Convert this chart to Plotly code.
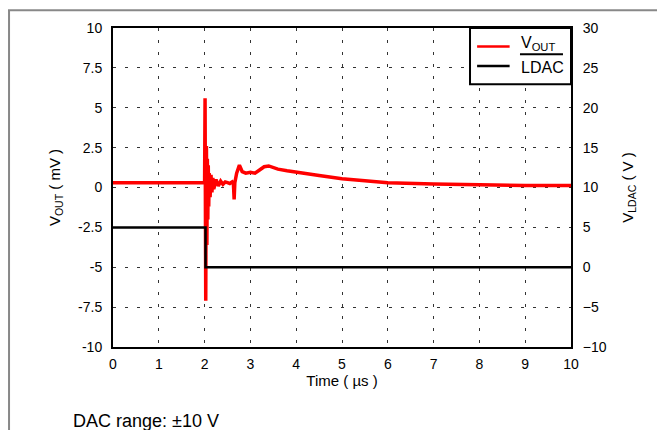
import plotly.graph_objects as go

# Data
t_out = [0.0, 1.0, 1.9, 1.98, 2.0, 2.01, 2.025, 2.035, 2.04, 2.05, 2.06, 2.07, 2.08, 2.09, 2.10,
         2.12, 2.14, 2.16, 2.18, 2.20, 2.25, 2.30, 2.35, 2.40, 2.45, 2.50, 2.55, 2.60, 2.63,
         2.645, 2.66, 2.70, 2.76, 2.82, 2.90, 3.0, 3.1, 3.2, 3.3, 3.4, 3.5, 3.6, 3.8, 4.0,
         4.5, 5.0, 5.5, 6.0, 7.0, 8.0, 9.0, 10.0]
v_out = [0.3, 0.32, 0.3, 0.3, 0.3, 5.6, -7.1, 1.0, 2.6, -3.6, 1.8, -2.0, 1.4, -1.2, 0.9,
         -0.6, 0.8, -0.3, 0.6, -0.1, 0.5, 0.1, 0.4, 0.2, 0.35, 0.3, 0.25, 0.35, 0.2,
         -0.75, 0.3, 0.9, 1.4, 1.0, 0.9, 0.95, 0.9, 1.1, 1.3, 1.35, 1.25, 1.15, 1.05, 0.95,
         0.75, 0.55, 0.4, 0.3, 0.22, 0.16, 0.12, 0.12]

t_ldac = [0.0, 2.02, 2.02, 10.0]
v_ldac = [5.0, 5.0, 0.0, 0.0]

x_ticks = [0, 1, 2, 3, 4, 5, 6, 7, 8, 9, 10]
y_ticks = [-10, -7.5, -5, -2.5, 0, 2.5, 5, 7.5, 10]
y_labels = ["-10", "-7.5", "-5", "-2.5", "0", "2.5", "5", "7.5", "10"]
y2_ticks = [-10, -5, 0, 5, 10, 15, 20, 25, 30]

legend_names = ["V<sub>OUT</sub>", "LDAC"]
legend_colors = ["#ff0000", "#000000"]

FONT = "Liberation Sans, Arial, sans-serif"
HIDDEN_TICK = "rgba(0,0,0,0)"

fig = go.Figure()
fig.add_trace(go.Scatter(x=t_out, y=v_out, mode="lines", name=legend_names[0],
                         line=dict(color=legend_colors[0], width=3.5), showlegend=False))
fig.add_trace(go.Scatter(x=t_ldac, y=v_ldac, mode="lines", name=legend_names[1],
                         line=dict(color=legend_colors[1], width=2.5), yaxis="y2",
                         showlegend=False))

grid = dict(showgrid=True, gridcolor="#333333", gridwidth=1, griddash="3px,9px")

fig.update_layout(
    width=665, height=430,
    margin=dict(l=105, r=102, t=15, b=91),
    paper_bgcolor="white", plot_bgcolor="white",
    font=dict(family=FONT, size=14, color="black"),
    xaxis=dict(range=[0, 10], tickvals=x_ticks, ticks="outside", ticklen=3, tickcolor=HIDDEN_TICK,
               showline=True, linecolor="black", linewidth=2, mirror=True, zeroline=False,
               title=dict(text="Time ( µs )", font=dict(size=15), standoff=5), **grid),
    yaxis=dict(range=[-10, 10], tickvals=y_ticks, ticktext=y_labels, ticks="outside", ticklen=6,
               tickcolor=HIDDEN_TICK, showline=True, linecolor="black", linewidth=2, mirror=True,
               zeroline=False,
               title=dict(text="V<sub>OUT</sub> ( mV )", font=dict(size=15), standoff=14), **grid),
    yaxis2=dict(range=[-10, 30], tickvals=y2_ticks, overlaying="y", side="right", showgrid=False,
                zeroline=False, showline=False, ticks="outside", ticklen=8, tickcolor=HIDDEN_TICK,
                title=dict(text="V<sub>LDAC</sub> ( V )", font=dict(size=15), standoff=16)),
    showlegend=False,
)

# Hand-built legend box (to match the reference's compact layout with overline)
fig.add_shape(type="rect", xref="paper", yref="paper", x0=0.7795, x1=1.0, y0=0.824, y1=1.0,
              line=dict(color="black", width=2), fillcolor="white", layer="above")
for yy, col in zip([0.9423, 0.8805], legend_colors):
    fig.add_shape(type="line", xref="paper", yref="paper", x0=0.795, x1=0.866, y0=yy, y1=yy,
                  line=dict(color=col, width=2.5), layer="above")
fig.add_annotation(text=legend_names[0], xref="paper", yref="paper", x=0.8875, y=0.951,
                   xanchor="left", yanchor="middle", showarrow=False, font=dict(size=16))
fig.add_annotation(text=legend_names[1], xref="paper", yref="paper", x=0.8875, y=0.875,
                   xanchor="left", yanchor="middle", showarrow=False, font=dict(size=16))
fig.add_shape(type="line", xref="paper", yref="paper", x0=0.8886, x1=0.9825, y0=0.9176, y1=0.9176,
              line=dict(color="black", width=2), layer="above")

# Frame lines of the page
fig.add_shape(type="line", xref="paper", yref="paper", x0=-0.23, x1=1.21, y0=1.0556, y1=1.0556,
              line=dict(color="#888888", width=2))
fig.add_shape(type="line", xref="paper", yref="paper", x0=-0.227, x1=-0.227, y0=1.0556, y1=-0.3,
              line=dict(color="#888888", width=2))

fig.add_annotation(text="DAC range: ±10 V", xref="paper", yref="paper", x=-0.092, y=-0.233,
                   xanchor="left", yanchor="middle", showarrow=False, font=dict(size=18))

fig.write_html("out.html")
